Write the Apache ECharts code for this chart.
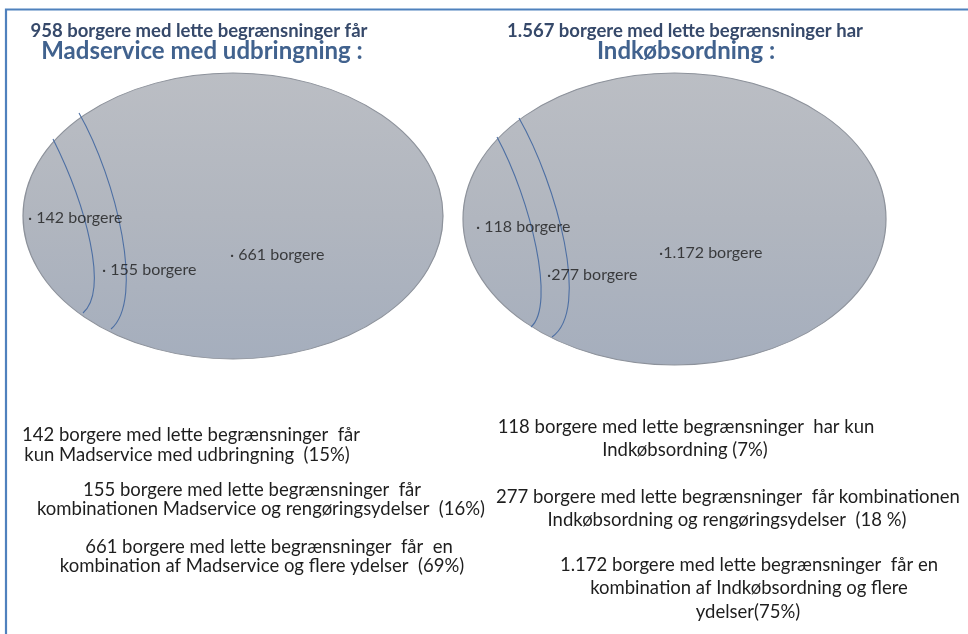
<!DOCTYPE html>
<html>
<head>
<meta charset="utf-8">
<script src="https://cdn.jsdelivr.net/npm/echarts@6/dist/echarts.min.js"></script>
<style>
  html, body { margin: 0; padding: 0; background: #fff; }
  #chart { width: 968px; height: 634px; }
</style>
</head>
<body>
<div id="chart"></div>
<script>
// data
const services = ['Madservice med udbringning', 'Indkøbsordning'];
const totals = [958, 1567];
const madCounts = [142, 155, 661];
const madPct = ['15%', '16%', '69%'];
const indCounts = [118, 277, 1172];
const indPct = ['7%', '18 %', '75%'];

// helpers
const fmt = n => String(n).replace(/\B(?=(\d{3})+(?!\d))/g, '.');
const FONT = 'Lato, "Open Sans", sans-serif';

// layout (pixel space of the hidden grid)
const ellipses = [
  { cx: 233, cy: 216, w: 420, h: 286 },
  { cx: 674.5, cy: 219, w: 423, h: 292 }
];
const arcs = [
  [[53, 139], [86, 205], [109, 290], [83, 313]],
  [[79, 113], [117, 180], [145, 300], [111, 329]],
  [[497, 137], [531, 200], [556, 305], [531, 327]],
  [[519, 118], [557, 185], [591, 310], [552, 337]]
];
const pointLabelPos = [
  [28, 218], [102, 270], [230, 255],
  [476, 227], [547, 275], [659, 253]
];

const pointLabels = [
  '· ' + fmt(madCounts[0]) + ' borgere',
  '· ' + fmt(madCounts[1]) + ' borgere',
  '· ' + fmt(madCounts[2]) + ' borgere',
  '· ' + fmt(indCounts[0]) + ' borgere',
  '·' + fmt(indCounts[1]) + ' borgere',
  '·' + fmt(indCounts[2]) + ' borgere'
];

const T1 = 18.5, T2 = 24, BODY = 18.5;

// text lines: [text, x, y, size, weight, color]
const lines = [
  [fmt(totals[0]) + ' borgere med lette begrænsninger får', 199, 31, T1, 'bold', '#36496a'],
  [services[0] + ' :', 202, 51, T2, 'bold', '#41628e'],
  [fmt(totals[1]) + ' borgere med lette begrænsninger har', 685, 31, T1, 'bold', '#36496a'],
  [services[1] + ' :', 686, 51, T2, 'bold', '#41628e'],

  [fmt(madCounts[0]) + ' borgere med lette begrænsninger  får', 191, 435, BODY, 'normal', '#1e1e1e'],
  ['kun ' + services[0] + '  (' + madPct[0] + ')', 187, 455, BODY, 'normal', '#1e1e1e'],
  [fmt(madCounts[1]) + ' borgere med lette begrænsninger  får', 252, 490, BODY, 'normal', '#1e1e1e'],
  ['kombinationen Madservice og rengøringsydelser  (' + madPct[1] + ')', 261, 509, BODY, 'normal', '#1e1e1e'],
  [fmt(madCounts[2]) + ' borgere med lette begrænsninger  får  en', 269, 547, BODY, 'normal', '#1e1e1e'],
  ['kombination af Madservice og flere ydelser  (' + madPct[2] + ')', 262, 566, BODY, 'normal', '#1e1e1e'],

  [fmt(indCounts[0]) + ' borgere med lette begrænsninger  har kun', 686, 427, BODY, 'normal', '#1e1e1e'],
  [services[1] + ' (' + indPct[0] + ')', 685, 450, BODY, 'normal', '#1e1e1e'],
  [fmt(indCounts[1]) + ' borgere med lette begrænsninger  får kombinationen', 728, 497, BODY, 'normal', '#1e1e1e'],
  [services[1] + ' og rengøringsydelser  (' + indPct[1] + ')', 727, 520, BODY, 'normal', '#1e1e1e'],
  [fmt(indCounts[2]) + ' borgere med lette begrænsninger  får en', 749, 565, BODY, 'normal', '#1e1e1e'],
  ['kombination af ' + services[1] + ' og flere', 749, 588, BODY, 'normal', '#1e1e1e'],
  ['ydelser(' + indPct[2] + ')', 748, 612, BODY, 'normal', '#1e1e1e']
];

const chart = echarts.init(document.getElementById('chart'), null, { renderer: 'canvas' });

const textElements = lines.map(l => ({
  type: 'text',
  x: l[1],
  y: l[2],
  z: 10,
  style: {
    text: l[0],
    font: l[4] + ' ' + l[3] + 'px ' + FONT,
    fill: l[5],
    textAlign: 'center',
    align: 'center',
    textVerticalAlign: 'middle',
    verticalAlign: 'middle'
  }
}));

const option = {
  animation: false,
  grid: { left: 0, right: 0, top: 0, bottom: 0 },
  xAxis: { type: 'value', min: 0, max: 968, show: false },
  yAxis: { type: 'value', min: 0, max: 634, inverse: true, show: false },
  graphic: [
    {
      type: 'polyline',
      z: 20,
      shape: { points: [[6, 634], [6, 9.5], [968, 9.5]] },
      style: { stroke: '#4f81bd', lineWidth: 2.2, fill: null }
    }
  ].concat(textElements),
  series: [
    {
      type: 'scatter',
      z: 1,
      silent: true,
      data: ellipses.map(e => ({ value: [e.cx, e.cy], symbolSize: [e.w, e.h] })),
      symbol: 'circle',
      itemStyle: {
        opacity: 1,
        color: new echarts.graphic.LinearGradient(0, 0, 0, 1, [
          { offset: 0, color: '#bbbec4' },
          { offset: 0.5, color: '#b1b6bf' },
          { offset: 1, color: '#a5aebd' }
        ]),
        borderColor: '#8d929b',
        borderWidth: 1
      }
    },
    {
      type: 'custom',
      z: 2,
      silent: true,
      data: arcs.map((a, i) => i),
      renderItem: (params, api) => {
        const a = arcs[params.dataIndex].map(p => api.coord(p));
        return {
          type: 'bezierCurve',
          shape: {
            x1: a[0][0], y1: a[0][1],
            cpx1: a[1][0], cpy1: a[1][1],
            cpx2: a[2][0], cpy2: a[2][1],
            x2: a[3][0], y2: a[3][1]
          },
          style: { stroke: '#4d6fa3', lineWidth: 1.1, fill: null }
        };
      }
    },
    {
      type: 'scatter',
      z: 3,
      silent: true,
      symbolSize: 0,
      data: pointLabelPos.map((p, i) => ({ value: p, name: pointLabels[i] })),
      label: {
        show: true,
        position: 'right',
        distance: 0,
        formatter: p => p.name,
        color: '#1a1a1a',
        fontFamily: FONT,
        fontSize: 16
      }
    }
  ]
};

chart.setOption(option);
</script>
</body>
</html>
